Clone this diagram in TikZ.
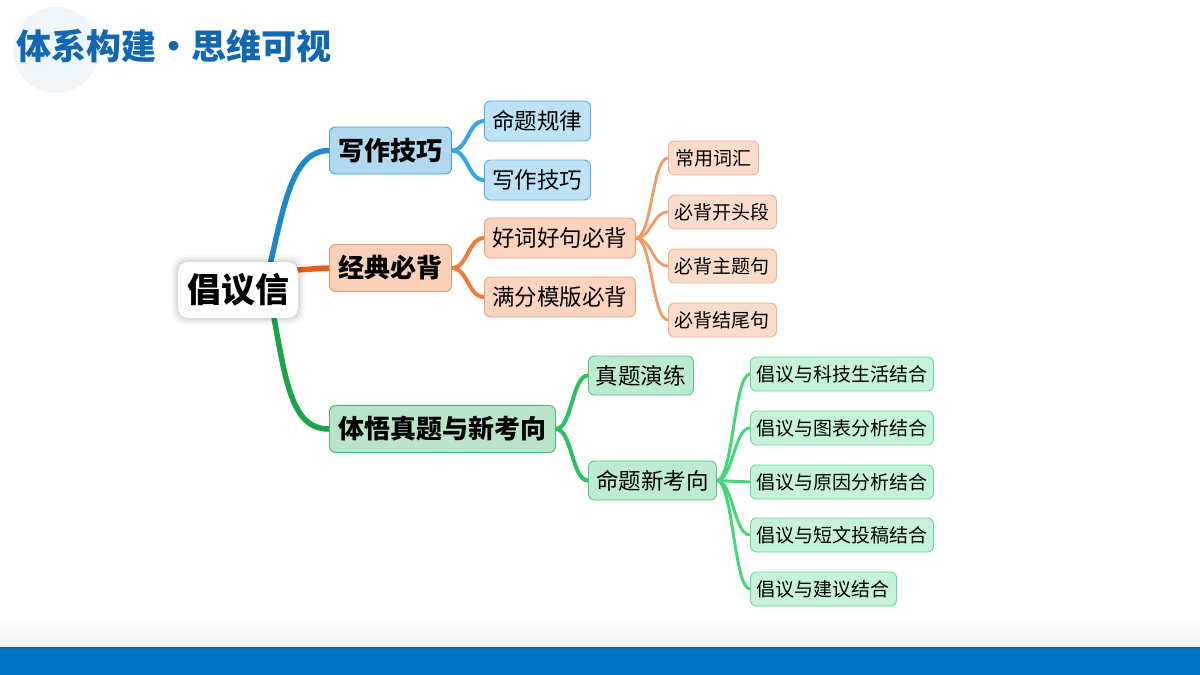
\documentclass[tikz,border=0pt]{standalone}
\usepackage{fontspec}
\setmainfont{Noto Sans CJK SC}
\usetikzlibrary{backgrounds}
\pgfdeclarelayer{bottom}
\pgfsetlayers{bottom,background,main}
\definecolor{titleblue}{HTML}{1167B1}
\definecolor{bandblue}{HTML}{0070C0}
\definecolor{circ}{HTML}{F0F5FA}
\definecolor{bLa}{HTML}{1E88C8}
\definecolor{bLb}{HTML}{35A6E6}
\definecolor{oLa}{HTML}{E85D1A}
\definecolor{oLb}{HTML}{F07B3A}
\definecolor{oLc}{HTML}{F29A66}
\definecolor{gLa}{HTML}{1BA54A}
\definecolor{gLb}{HTML}{2CC060}
\definecolor{gLc}{HTML}{45D67A}
\definecolor{bF1}{HTML}{B1D8EE}\definecolor{bD1}{HTML}{4A9BCB}
\definecolor{bF2}{HTML}{BDE2F6}\definecolor{bD2}{HTML}{56ABDC}
\definecolor{oF1}{HTML}{FAD0B8}\definecolor{oD1}{HTML}{E3976A}
\definecolor{oF2}{HTML}{FCD3BF}\definecolor{oD2}{HTML}{E8A07A}
\definecolor{oF3}{HTML}{FBDCCB}\definecolor{oD3}{HTML}{F0B090}
\definecolor{gF1}{HTML}{B9E4C8}\definecolor{gD1}{HTML}{4DB371}
\definecolor{gF2}{HTML}{BDEBCF}\definecolor{gD2}{HTML}{5CC585}
\definecolor{gF3}{HTML}{C6F3D8}\definecolor{gD3}{HTML}{6BD898}
\tikzset{
  box/.style={rectangle, rounded corners=6pt, inner sep=0pt, anchor=west, line width=0.9pt, text=black},
  lone/.style={box, font=\fontsize{26}{30}\selectfont\bfseries, minimum height=47pt},
  ltwo/.style={box, font=\fontsize{22.5}{26}\selectfont, minimum height=40pt},
  lthree/.style={box, font=\fontsize{19}{22}\selectfont, minimum height=34pt},
  bluebox1/.style={lone, fill=bF1, draw=bD1},
  bluebox2/.style={ltwo, fill=bF2, draw=bD2},
  orbox1/.style={lone, fill=oF1, draw=oD1},
  orbox2/.style={ltwo, fill=oF2, draw=oD2},
  orbox3/.style={lthree, fill=oF3, draw=oD3},
  grbox1/.style={lone, fill=gF1, draw=gD1},
  grbox2/.style={ltwo, fill=gF2, draw=gD2, minimum height=39pt},
  grbox3/.style={lthree, fill=gF3, draw=gD3},
  link/.style={line cap=round},
}
\newcommand{\mlink}[4]{\draw[link, draw=#1, line width=#2] (#3.east) .. controls +(16pt,0) and +(-16pt,0) .. (#4.west);}
\begin{document}
\begin{tikzpicture}[x=1pt, y=-1pt]
\useasboundingbox (0,0) rectangle (1200,675);
\begin{pgfonlayer}{bottom}
\fill[white] (0,0) rectangle (1200,675);
\fill[circ] (56,50) circle (43);
\shade[top color=white, bottom color=black!5] (0,618) rectangle (1200,647);
\fill[bandblue] (0,647) rectangle (1200,675);
\draw[bandblue!85!black, line width=0.8pt] (0,647.4) -- (1200,647.4);
\end{pgfonlayer}
\node[anchor=west, text=titleblue, font=\fontsize{35}{40}\selectfont\bfseries, inner sep=0pt] (title) at (16,46) {体系构建・思维可视};

% root with soft glow
\foreach \e/\o in {7/0.025,5/0.035,3/0.045,1.5/0.05}{
  \fill[black, opacity=\o, rounded corners=12pt] (178-\e,262-\e) rectangle (298+\e,318+\e);
}
\node[rectangle, rounded corners=10pt, fill=white, minimum width=120pt, minimum height=56pt, inner sep=0pt, font=\fontsize{34}{38}\selectfont\bfseries] (root) at (238,290) {倡议信};

% level 1
\node[bluebox1, minimum width=122pt] (w1) at (329,150.5) {写作技巧};
\node[orbox1, minimum width=122pt] (o1) at (329,268) {经典必背};
\node[grbox1, minimum width=226pt] (g1) at (329,429) {体悟真题与新考向};

% level 2
\node[bluebox2, minimum width=106pt] (b2a) at (484,121) {命题规律};
\node[bluebox2, minimum width=106pt] (b2b) at (484,180) {写作技巧};
\node[orbox2, minimum width=151pt] (o2a) at (484,238) {好词好句必背};
\node[orbox2, minimum width=151pt] (o2b) at (484,297) {满分模版必背};
\node[grbox2, minimum width=105pt] (g2a) at (588,375.5) {真题演练};
\node[grbox2, minimum width=128pt] (g2b) at (588,480.5) {命题新考向};

% level 3
\node[orbox3, minimum width=90pt] (o3a) at (668,158) {常用词汇};
\node[orbox3, minimum width=108pt] (o3b) at (668,212) {必背开头段};
\node[orbox3, minimum width=108pt] (o3c) at (668,266) {必背主题句};
\node[orbox3, minimum width=108pt] (o3d) at (668,320) {必背结尾句};
\node[grbox3, minimum width=183pt] (g3a) at (750,374) {倡议与科技生活结合};
\node[grbox3, minimum width=183pt] (g3b) at (750,428) {倡议与图表分析结合};
\node[grbox3, minimum width=183pt] (g3c) at (750,482) {倡议与原因分析结合};
\node[grbox3, minimum width=183pt] (g3d) at (750,535) {倡议与短文投稿结合};
\node[grbox3, minimum width=146pt] (g3e) at (750,589) {倡议与建议结合};

\begin{scope}[on background layer]
% root connectors
\draw[link, draw=bLa, line width=5.5pt] ([xshift=30pt,yshift=-12pt]root.north) .. controls (284,205) and (292,150.5) .. (w1.west);
\draw[link, draw=oLa, line width=5.5pt] ([xshift=-10pt,yshift=20pt]root.east) .. controls (310,270) and (315,268) .. (o1.west);
\draw[link, draw=gLa, line width=5.5pt] ([xshift=34pt,yshift=12pt]root.south) .. controls (286,385) and (292,429) .. (g1.west);
% level 1 -> 2
\mlink{bLb}{4pt}{w1}{b2a}
\mlink{bLb}{4pt}{w1}{b2b}
\mlink{oLb}{4pt}{o1}{o2a}
\mlink{oLb}{4pt}{o1}{o2b}
\mlink{gLb}{4pt}{g1}{g2a}
\mlink{gLb}{4pt}{g1}{g2b}
% level 2 -> 3
\mlink{oLc}{2.8pt}{o2a}{o3a}
\mlink{oLc}{2.8pt}{o2a}{o3b}
\mlink{oLc}{2.8pt}{o2a}{o3c}
\mlink{oLc}{2.8pt}{o2a}{o3d}
\mlink{gLc}{3pt}{g2b}{g3a}
\mlink{gLc}{3pt}{g2b}{g3b}
\mlink{gLc}{3pt}{g2b}{g3c}
\mlink{gLc}{3pt}{g2b}{g3d}
\mlink{gLc}{3pt}{g2b}{g3e}
\end{scope}
\end{tikzpicture}
\end{document}
